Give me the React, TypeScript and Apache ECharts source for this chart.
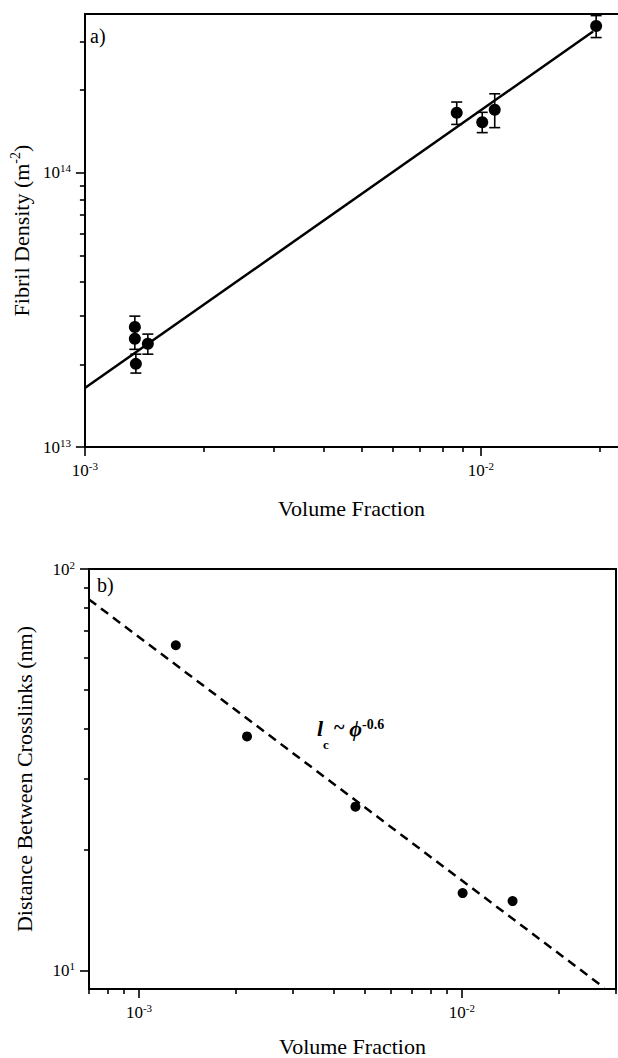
import React, { useEffect, useRef } from "react";
import * as echarts from "echarts";

const FONT = "Liberation Serif, Times New Roman, serif";

// ---------- Panel a) Fibril density vs volume fraction ----------
const aVolumeFraction = [1.337e-3, 1.337e-3, 1.345e-3, 1.442e-3, 8.69e-3, 1.008e-2, 1.084e-2, 1.955e-2];
const aFibrilDensity = [2.74e13, 2.48e13, 2.01e13, 2.38e13, 1.655e14, 1.527e14, 1.697e14, 3.425e14];
const aErrLow = [2.5e13, 2.27e13, 1.86e13, 2.18e13, 1.5e14, 1.4e14, 1.46e14, 3.11e14];
const aErrHigh = [3.0e13, 2.72e13, 2.18e13, 2.58e13, 1.81e14, 1.66e14, 1.94e14, 3.74e14];
const aFitX = [1e-3, 1.92e-2];
const aFitY = [1.64e13, 3.27e14];
const aXRange = [1e-3, 0.0222];
const aYRange = [1e13, 3.79e14];
const aXMajor = [1e-3, 1e-2];
const aXMinor = [2e-3, 3e-3, 4e-3, 5e-3, 6e-3, 7e-3, 8e-3, 9e-3, 2e-2];
const aYMajor = [1e13, 1e14];
const aYMinor = [2e13, 3e13, 4e13, 5e13, 6e13, 7e13, 8e13, 9e13, 2e14, 3e14];

// ---------- Panel b) Distance between crosslinks ----------
const bVolumeFraction = [1.3e-3, 2.16e-3, 4.68e-3, 1.005e-2, 1.435e-2];
const bDistance = [64.6, 38.3, 25.6, 15.6, 14.9];
const bFitX = [7e-4, 2.76e-2];
const bFitY = [84, 9.06];
const bXRange = [7e-4, 0.03];
const bYRange = [9, 100];
const bXMajor = [1e-3, 1e-2];
const bXMinor = [7e-4, 8e-4, 9e-4, 2e-3, 3e-3, 4e-3, 5e-3, 6e-3, 7e-3, 8e-3, 9e-3, 2e-2, 3e-2];
const bYMajor = [10, 100];
const bYMinor = [20, 30, 40, 50, 60, 70, 80, 90];

const lg = (v: number) => Math.log10(v);

const labelRich = {
  b: { fontSize: 17, fontFamily: FONT, color: "#000", lineHeight: 20 },
  s: { fontSize: 11, fontFamily: FONT, color: "#000", lineHeight: 12, verticalAlign: "top" },
};
const tickFmt = (v: number) => `{b|10}{s|${Math.round(v)}}`;
const nameRich = {
  n: { fontSize: 22, fontFamily: FONT, color: "#000", lineHeight: 26 },
  s: { fontSize: 14, fontFamily: FONT, color: "#000", lineHeight: 14, verticalAlign: "top" },
};

function logAxis(gridIndex: number, range: number[]) {
  return { type: "log", gridIndex, min: range[0], max: range[1], show: false };
}

function majorAxis(
  gridIndex: number,
  position: string,
  range: number[],
  majors: number[],
  name: string,
  nameGap: number,
  margin: number
) {
  const vals = majors.map(lg);
  return {
    type: "value",
    gridIndex,
    position,
    min: lg(range[0]),
    max: lg(range[1]),
    name,
    nameLocation: "middle",
    nameGap,
    nameTextStyle: { fontFamily: FONT, fontSize: 22, color: "#000", rich: nameRich },
    axisLine: { show: true, onZero: false, lineStyle: { color: "#000", width: 2 } },
    axisTick: { show: true, customValues: vals, length: 9, lineStyle: { color: "#000", width: 1.6 } },
    axisLabel: {
      show: true,
      customValues: vals,
      formatter: tickFmt,
      fontFamily: FONT,
      fontSize: 17,
      color: "#000",
      rich: labelRich,
      margin,
    },
    splitLine: { show: false },
  };
}

function minorAxis(gridIndex: number, position: string, range: number[], minors: number[]) {
  return {
    type: "value",
    gridIndex,
    position,
    min: lg(range[0]),
    max: lg(range[1]),
    axisLine: { show: false, onZero: false },
    axisTick: { show: true, customValues: minors.map(lg), length: 5, lineStyle: { color: "#000", width: 1.6 } },
    axisLabel: { show: false },
    splitLine: { show: false },
  };
}

function frameAxis(gridIndex: number, position: string, range: number[]) {
  return {
    type: "value",
    gridIndex,
    position,
    min: lg(range[0]),
    max: lg(range[1]),
    axisLine: { show: true, onZero: false, lineStyle: { color: "#000", width: 2 } },
    axisTick: { show: false },
    axisLabel: { show: false },
    splitLine: { show: false },
  };
}

const errorBarRender = (_params: any, api: any) => {
  const x = api.value(0);
  const lo = api.coord([x, api.value(1)]);
  const hi = api.coord([x, api.value(2)]);
  const w = 5.5;
  const st = { stroke: "#000", lineWidth: 1.6 };
  return {
    type: "group",
    children: [
      { type: "line", shape: { x1: lo[0], y1: lo[1], x2: hi[0], y2: hi[1] }, style: st },
      { type: "line", shape: { x1: lo[0] - w, y1: lo[1], x2: lo[0] + w, y2: lo[1] }, style: st },
      { type: "line", shape: { x1: hi[0] - w, y1: hi[1], x2: hi[0] + w, y2: hi[1] }, style: st },
    ],
  };
};

export default function App() {
  const ref = useRef<HTMLDivElement>(null);
  useEffect(() => {
    if (!ref.current) return;
    const chart = echarts.init(ref.current, null, { renderer: "svg" });
    const option: any = {
      animation: false,
      backgroundColor: "#fff",
      textStyle: { fontFamily: FONT, color: "#000" },
      grid: [
        { left: 82, top: 14, width: 536, height: 433, containLabel: false },
        { left: 89, top: 569, width: 527, height: 422.5, containLabel: false },
      ],
      xAxis: [
        logAxis(0, aXRange),
        majorAxis(0, "bottom", aXRange, aXMajor, "{n|Volume Fraction}", 48, 13),
        minorAxis(0, "bottom", aXRange, aXMinor),
        frameAxis(0, "top", aXRange),
        logAxis(1, bXRange),
        majorAxis(1, "bottom", bXRange, bXMajor, "{n|Volume Fraction}", 44, 13),
        minorAxis(1, "bottom", bXRange, bXMinor),
        frameAxis(1, "top", bXRange),
      ],
      yAxis: [
        logAxis(0, aYRange),
        majorAxis(0, "left", aYRange, aYMajor, "{n|Fibril Density (m}{s|-2}{n|)}", 46, 14),
        minorAxis(0, "left", aYRange, aYMinor),
        logAxis(1, bYRange),
        majorAxis(1, "left", bYRange, bYMajor, "{n|Distance Between Crosslinks (nm)}", 52, 14),
        minorAxis(1, "left", bYRange, bYMinor),
        frameAxis(1, "right", bYRange),
      ],
      series: [
        {
          type: "line",
          xAxisIndex: 0,
          yAxisIndex: 0,
          data: aFitX.map((x, i) => [x, aFitY[i]]),
          symbol: "none",
          lineStyle: { color: "#000", width: 2.5 },
          z: 2,
        },
        {
          type: "custom",
          xAxisIndex: 0,
          yAxisIndex: 0,
          data: aVolumeFraction.map((x, i) => [x, aErrLow[i], aErrHigh[i]]),
          encode: { x: 0, y: [1, 2] },
          renderItem: errorBarRender,
          z: 3,
        },
        {
          type: "scatter",
          xAxisIndex: 0,
          yAxisIndex: 0,
          data: aVolumeFraction.map((x, i) => [x, aFibrilDensity[i]]),
          symbol: "circle",
          symbolSize: 12,
          itemStyle: { color: "#000", opacity: 1 },
          z: 4,
        },
        {
          type: "line",
          xAxisIndex: 4,
          yAxisIndex: 3,
          data: bFitX.map((x, i) => [x, bFitY[i]]),
          symbol: "none",
          lineStyle: { color: "#000", width: 2.5, type: [9, 6] },
          z: 2,
        },
        {
          type: "scatter",
          xAxisIndex: 4,
          yAxisIndex: 3,
          data: bVolumeFraction.map((x, i) => [x, bDistance[i]]),
          symbol: "circle",
          symbolSize: 10,
          itemStyle: { color: "#000", opacity: 1 },
          z: 4,
        },
      ],
      graphic: [
        {
          type: "text",
          x: 90,
          y: 26,
          style: { text: "a)", font: `20px ${FONT}`, fill: "#000" },
        },
        {
          type: "text",
          x: 97,
          y: 575,
          style: { text: "b)", font: `20px ${FONT}`, fill: "#000" },
        },
        {
          type: "text",
          x: 317,
          y: 717,
          style: {
            text: "{l|l}{c|c}{t| ~ }{p|ϕ}{s|-0.6}",
            fill: "#000",
            verticalAlign: "top",
            rich: {
              l: { fontFamily: FONT, fontSize: 22, fontStyle: "italic", fontWeight: "bold", lineHeight: 34, verticalAlign: "top" },
              c: { fontFamily: FONT, fontSize: 13, fontWeight: "bold", lineHeight: 26, verticalAlign: "bottom" },
              t: { fontFamily: FONT, fontSize: 20, fontWeight: "bold", lineHeight: 34, verticalAlign: "top" },
              p: { fontFamily: FONT, fontSize: 22, fontStyle: "italic", fontWeight: "bold", lineHeight: 34, verticalAlign: "top" },
              s: { fontFamily: FONT, fontSize: 14, fontWeight: "bold", lineHeight: 18, verticalAlign: "top" },
            },
          },
        },
      ],
    };
    chart.setOption(option);
    return () => chart.dispose();
  }, []);
  return (
    <div
      ref={ref}
      style={{ position: "absolute", left: 0, top: 0, width: 618, height: 1058, background: "#fff" }}
    />
  );
}
